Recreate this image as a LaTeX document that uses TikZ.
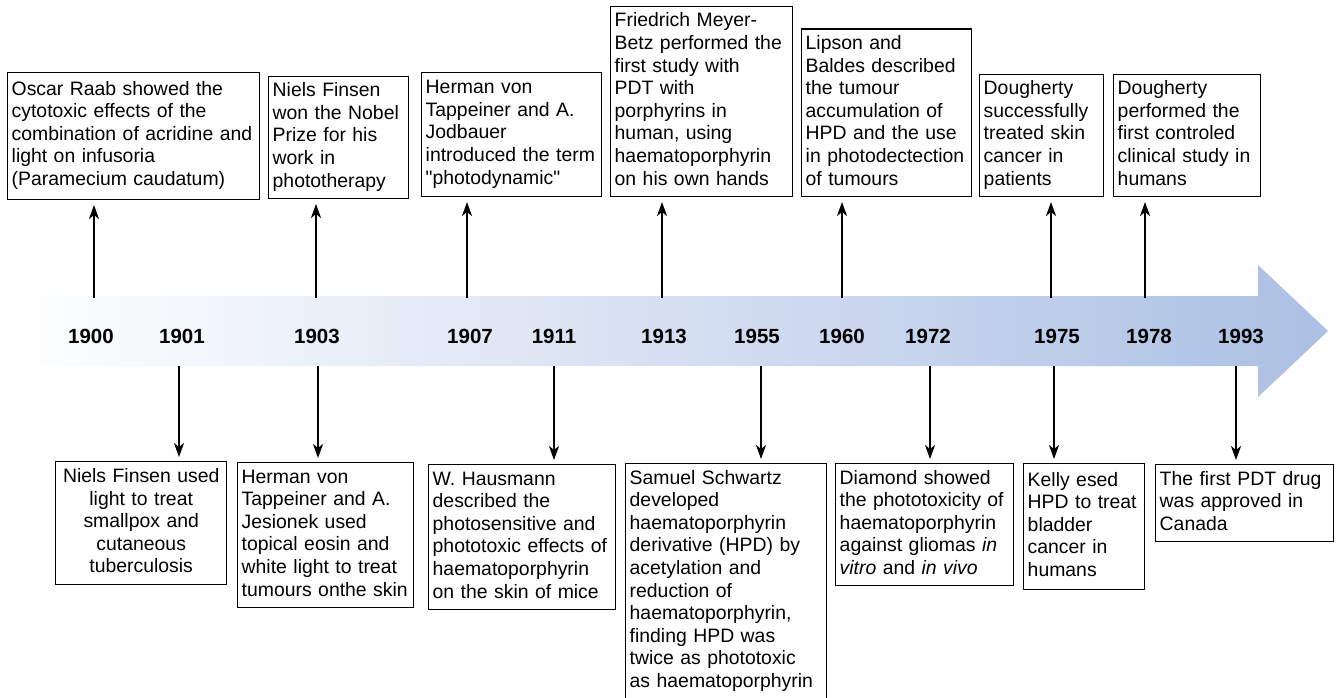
\documentclass[tikz,border=0pt]{standalone}
\usepackage{fontspec}
\setmainfont{Liberation Sans}
\usetikzlibrary{arrows.meta}
\definecolor{bandblue}{RGB}{172,192,228}
\newcommand{\evfont}{\fontsize{19.4}{22.6}\selectfont}
\newcommand{\yearfont}{\fontsize{20.5}{24}\selectfont\bfseries}
\hfuzz=10pt

\begin{document}
\begin{tikzpicture}[x=1pt,y=-1pt,
    event/.style={draw, line width=1.4pt, align=left, inner xsep=4pt, inner ysep=4.5pt,
      font=\evfont, execute at begin node=\strut, execute at end node=\strut},
    year/.style={font=\yearfont, inner sep=0pt},
    evarrow/.style={line width=2pt, -{Stealth[length=14pt,width=10pt,inset=4pt]}}]
    \useasboundingbox (0,0) rectangle (1337,697);

    % the time band
    \shade[left color=white, right color=bandblue] (8,296) -- (1258,296) -- (1258,265)
      -- (1328,331) -- (1258,397) -- (1258,366) -- (8,366) -- cycle;

    \foreach \yr/\x in {1900/91, 1901/182, 1903/317, 1907/470, 1911/554, 1913/664,
      1955/757, 1960/842, 1972/928, 1975/1057, 1978/1149, 1993/1241}
      \node[year] (y\yr) at (\x,336) {\yr};

    % events above
    \node[event, anchor=south west, text width=244pt, minimum height=127pt] (t1900) at (7,200)
      {Oscar Raab showed the\\cytotoxic effects of the\\combination of acridine and\\light on infusoria\\(Paramecium caudatum)};
    \node[event, anchor=south west, text width=132pt] (t1903) at (268,199)
      {Niels Finsen\\won the Nobel\\Prize for his\\work in\\phototherapy};
    \node[event, anchor=south west, text width=172pt, minimum height=124pt] (t1907) at (421,197)
      {Herman von\\Tappeiner and A.\\Jodbauer\\introduced the term\\\textquotedbl photodynamic\textquotedbl};
    \node[event, anchor=south west, text width=174pt, minimum height=188pt] (t1913) at (610,197)
      {Friedrich Meyer-\\Betz performed the\\first study with\\PDT with\\porphyrins in\\human, using\\haematoporphyrin\\on his own hands};
    \node[event, anchor=south west, text width=162pt] (t1960) at (801,197)
      {Lipson and\\Baldes described\\the tumour\\accumulation of\\HPD and the use\\in photodectection\\of tumours};
    \node[event, anchor=south west, text width=116pt] (t1975) at (979,197)
      {Dougherty\\successfully\\treated skin\\cancer in\\patients};
    \node[event, anchor=south west, text width=139pt] (t1978) at (1113,197)
      {Dougherty\\performed the\\first controled\\clinical study in\\humans};

    % events below
    \node[event, anchor=north west, align=center, text width=163pt, minimum height=123pt] (b1901) at (55,461)
      {Niels Finsen used\\light to treat\\smallpox and\\cutaneous\\tuberculosis};
    \node[event, anchor=north west, text width=168pt] (b1903) at (237,462)
      {Herman von\\Tappeiner and A.\\Jesionek used\\topical eosin and\\white light to treat\\tumours onthe skin};
    \node[event, anchor=north west, text width=179pt] (b1911) at (428,464)
      {W. Hausmann\\described the\\photosensitive and\\phototoxic effects of\\haematoporphyrin\\on the skin of mice};
    \node[event, anchor=north west, text width=193pt] (b1955) at (625,463)
      {Samuel Schwartz\\developed\\haematoporphyrin\\derivative (HPD) by\\acetylation and\\reduction of\\haematoporphyrin,\\finding HPD was\\twice as phototoxic\\as haematoporphyrin};
    \node[event, anchor=north west, text width=170pt] (b1972) at (835,463)
      {Diamond showed\\the phototoxicity of\\haematoporphyrin\\against gliomas \textit{in}\\\textit{vitro} and \textit{in vivo}};
    \node[event, anchor=north west, text width=113pt, minimum height=126pt] (b1975) at (1023,463)
      {Kelly esed\\HPD to treat\\bladder\\cancer in\\humans};
    \node[event, anchor=north west, text width=170pt] (b1993) at (1155,464)
      {The first PDT drug\\was approved in\\Canada};

    \foreach \x/\n in {94/1900, 316/1903, 467/1907, 662/1913, 842/1960, 1051/1975, 1145/1978}{
      \coordinate (u\n) at (\x,298);
      \draw[evarrow, shorten >=5pt] (u\n) -- (u\n |- t\n.south);
    }
    \foreach \x/\n in {179/1901, 318/1903, 554/1911, 761/1955, 930/1972, 1054/1975, 1236/1993}{
      \coordinate (d\n) at (\x,366);
      \draw[evarrow, shorten >=4pt] (d\n) -- (d\n |- b\n.north);
    }
\end{tikzpicture}
\end{document}
